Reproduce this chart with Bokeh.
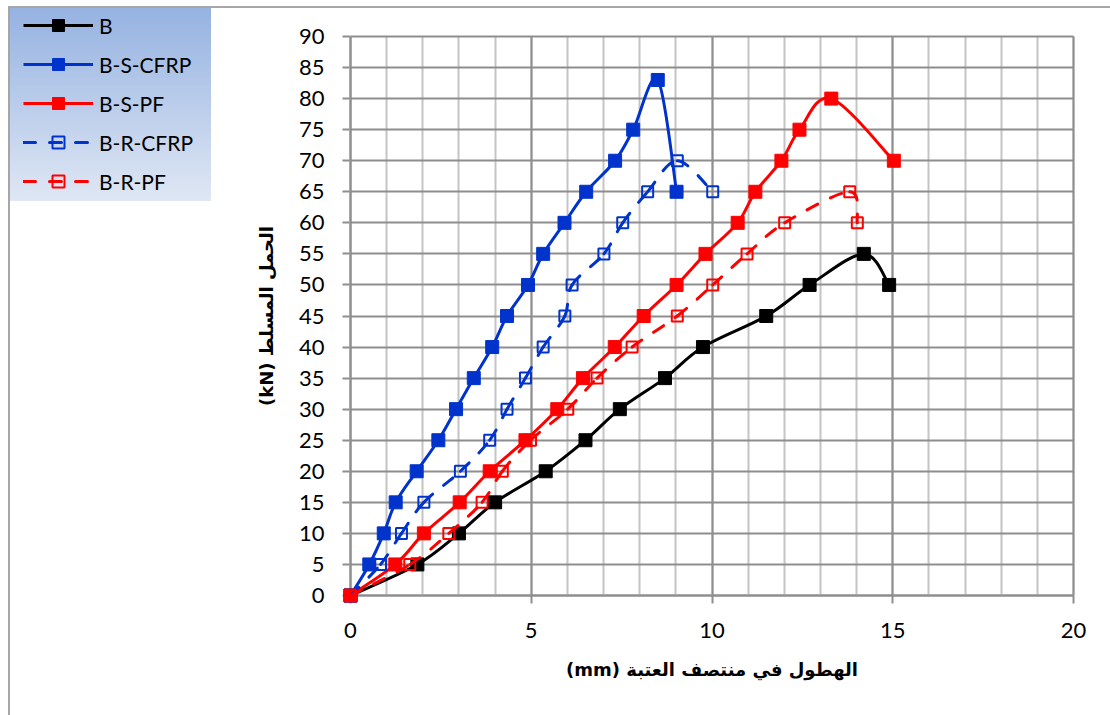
import numpy as np
from bokeh.plotting import figure
from bokeh.models import Range1d, SingleIntervalTicker, Legend, LegendItem, Grid
from bokeh.embed import file_html
from bokeh.resources import INLINE

# ---------------- data ----------------
series_names = ["B", "B-S-CFRP", "B-S-PF", "B-R-CFRP", "B-R-PF"]

b_x = [0, 1.85, 3.0, 4.0, 5.4, 6.5, 7.45, 8.7, 9.75, 11.5, 12.7, 14.2, 14.9]
b_y = [0, 5, 10, 15, 20, 25, 30, 35, 40, 45, 50, 55, 50]

bscfrp_x = [0, 0.52, 0.92, 1.25, 1.83, 2.43, 2.92, 3.41, 3.92, 4.33, 4.91,
            5.33, 5.92, 6.52, 7.32, 7.82, 8.5, 9.02]
bscfrp_y = [0, 5, 10, 15, 20, 25, 30, 35, 40, 45, 50, 55, 60, 65, 70, 75, 83, 65]

bspf_x = [0, 1.24, 2.03, 3.02, 3.85, 4.84, 5.72, 6.43, 7.31, 8.11, 9.02, 9.82,
          10.71, 11.2, 11.92, 12.42, 13.3, 15.03]
bspf_y = [0, 5, 10, 15, 20, 25, 30, 35, 40, 45, 50, 55, 60, 65, 70, 75, 80, 70]

brcfrp_x = [0, 0.83, 1.41, 2.03, 3.04, 3.85, 4.33, 4.84, 5.33, 5.93, 6.13,
            7.01, 7.53, 8.22, 9.04, 10.02]
brcfrp_y = [0, 5, 10, 15, 20, 25, 30, 35, 40, 45, 50, 55, 60, 65, 70, 65]

brpf_x = [0, 1.64, 2.72, 3.64, 4.2, 4.98, 6.01, 6.82, 7.79, 9.04, 10.02,
          10.97, 12.01, 13.81, 14.02]
brpf_y = [0, 5, 10, 15, 20, 25, 30, 35, 40, 45, 50, 55, 60, 65, 60]

x_min, x_max, x_step = 0, 20, 5
y_min, y_max, y_step = 0, 90, 5

x_label = "(mm) الهطول في منتصف العتبة"
y_label = "(kN) الحمل المسلط"

# ---------------- layout (pixels) ----------------
W, H = 1110, 715
PL, PT, PR, PB = 350, 36, 1073, 595   # plot-area edges on the page

# the frame spans the whole canvas; the axes sit at x=0 / y=0 (fixed_location)
kx = (PR - PL) / (x_max - x_min)
ky = (PB - PT) / (y_max - y_min)
xr = Range1d(x_min - PL / kx, x_max + (W - PR) / kx)
yr = Range1d(y_min - (H - PB) / ky, y_max + PT / ky)

p = figure(width=W, height=H, output_backend="svg", toolbar_location=None,
           x_range=xr, y_range=yr,
           min_border_left=0, min_border_top=0,
           min_border_right=0, min_border_bottom=0)
p.outline_line_color = None
p.background_fill_color = None
p.border_fill_color = None

# chart-area border (left/top) and the legend's gradient panel, as CSS backgrounds
p.styles = {
    "background-color": "white",
    "background-image": ("linear-gradient(#a6a6a6, #a6a6a6), "
                         "linear-gradient(#a6a6a6, #a6a6a6), "
                         "linear-gradient(180deg, #95b2e1 0%, #dfe7f4 100%)"),
    "background-size": "2px 715px, 1110px 2px, 201px 194px",
    "background-position": "8px 6px, 8px 6px, 10px 7px",
    "background-repeat": "no-repeat",
}

xt = SingleIntervalTicker(interval=x_step, num_minor_ticks=5)
yt = SingleIntervalTicker(interval=y_step, num_minor_ticks=0)

grid_dark = "#8e8e8e"
grid_light = "#c4c4c4"

has_cross = hasattr(Grid, "cross_bounds")
xg, yg = p.xgrid[0], p.ygrid[0]
xg.ticker = xt
yg.ticker = yt
xg.bounds = (x_min, x_max)
yg.bounds = (y_min, y_max)
if has_cross:
    xg.cross_bounds = (y_min, y_max)
    yg.cross_bounds = (x_min, x_max)
    xg.grid_line_color = grid_dark
    xg.grid_line_width = 2
    xg.minor_grid_line_color = grid_light
    xg.minor_grid_line_width = 2
    yg.grid_line_color = grid_dark
    yg.grid_line_width = 2
else:
    xg.grid_line_color = None
    yg.grid_line_color = None
    xs_minor = [v for v in range(x_min, x_max + 1) if v % x_step]
    xs_major = list(range(x_min, x_max + 1, x_step))
    ys_major = list(range(y_min, y_max + 1, y_step))
    p.segment(x0=xs_minor, x1=xs_minor, y0=[y_min] * len(xs_minor), y1=[y_max] * len(xs_minor),
              line_color=grid_light, line_width=2, level="underlay")
    p.segment(x0=xs_major, x1=xs_major, y0=[y_min] * len(xs_major), y1=[y_max] * len(xs_major),
              line_color=grid_dark, line_width=2, level="underlay")
    p.segment(x0=[x_min] * len(ys_major), x1=[x_max] * len(ys_major), y0=ys_major, y1=ys_major,
              line_color=grid_dark, line_width=2, level="underlay")

p.xaxis.ticker = xt
p.yaxis.ticker = yt
p.xaxis.fixed_location = 0
p.yaxis.fixed_location = 0
p.xaxis.bounds = (x_min, x_max)
p.yaxis.bounds = (y_min, y_max)

for ax in (p.xaxis, p.yaxis):
    ax.level = "underlay"
    ax.axis_line_color = grid_dark
    ax.axis_line_width = 2
    ax.major_tick_line_color = grid_dark
    ax.major_tick_line_width = 2
    ax.major_tick_out = 8
    ax.major_tick_in = 0
    ax.minor_tick_line_color = None
    ax.major_label_text_font = "Lato"
    ax.major_label_text_font_size = "22px"
    ax.major_label_text_color = "black"
    ax.axis_label_text_font = "'DejaVu Sans'"
    ax.axis_label_text_font_style = "bold"
    ax.axis_label_text_font_size = "18px"
    ax.axis_label_text_color = "black"

p.xaxis.axis_label = x_label
p.yaxis.axis_label = y_label
p.xaxis.major_label_standoff = 19
p.yaxis.major_label_standoff = 18
p.xaxis.axis_label_standoff = 18
p.yaxis.axis_label_standoff = 19

# ---------------- series ----------------
def bezier_params(xs, ys, t=1.0 / 6.0):
    n = len(xs)
    d = dict(x0=[], y0=[], x1=[], y1=[], cx0=[], cy0=[], cx1=[], cy1=[])
    for i in range(n - 1):
        im = max(i - 1, 0)
        ip = min(i + 2, n - 1)
        d["x0"].append(xs[i]); d["y0"].append(ys[i])
        d["x1"].append(xs[i + 1]); d["y1"].append(ys[i + 1])
        d["cx0"].append(xs[i] + t * (xs[i + 1] - xs[im]))
        d["cy0"].append(ys[i] + t * (ys[i + 1] - ys[im]))
        d["cx1"].append(xs[i + 1] - t * (xs[ip] - xs[i]))
        d["cy1"].append(ys[i + 1] - t * (ys[ip] - ys[i]))
    return d

specs = [
    (series_names[0], b_x, b_y, "black", None, True),
    (series_names[1], bscfrp_x, bscfrp_y, "#0033cc", None, True),
    (series_names[2], bspf_x, bspf_y, "#ff0000", None, True),
    (series_names[3], brcfrp_x, brcfrp_y, "#0033cc", "12 14", False),
    (series_names[4], brpf_x, brpf_y, "#ff0000", "12 14", False),
]

items = []
for name, xs, ys, color, dash, filled in specs:
    lkw = dict(line_color=color, line_width=3)
    if dash:
        lkw["line_dash"] = dash
        lkw["line_cap"] = "round"
    p.bezier(**bezier_params(xs, ys), **lkw)
    leg_line = p.line(x=[float("nan")], y=[float("nan")], **lkw)
    if filled:
        m = p.scatter(xs, ys, marker="square", size=13, fill_color=color,
                      line_color=color, line_width=1)
    else:
        m = p.scatter(xs, ys, marker="square", size=11, fill_color=None,
                      line_color=color, line_width=2)
    items.append(LegendItem(label=name, renderers=[leg_line, m]))

LEG_H = 5 * 30 + 4 * 9
legend = Legend(items=items, location=(23, H - 10 - LEG_H),
                background_fill_alpha=0, border_line_color=None,
                padding=0, margin=0, spacing=9, glyph_width=70, glyph_height=30,
                label_standoff=6, label_text_font="Lato",
                label_text_font_size="21px", label_text_color="black")
p.add_layout(legend)

open("out.html", "w").write(file_html(p, INLINE))
